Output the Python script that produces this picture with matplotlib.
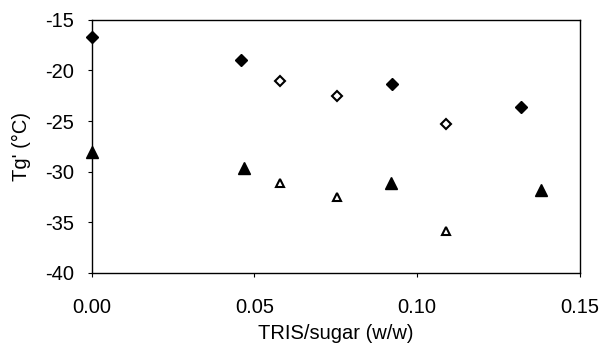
import matplotlib

matplotlib.use("Agg")
import matplotlib.pyplot as plt

plt.rcParams["font.family"] = ["Liberation Sans", "DejaVu Sans"]
plt.rcParams["axes.unicode_minus"] = False

# Tg' of frozen solutions vs TRIS/sugar ratio
diam_fill_x = [0.000, 0.046, 0.0923, 0.132]
diam_fill_y = [-16.7, -18.95, -21.3, -23.6]
diam_open_x = [0.0578, 0.0755, 0.109]
diam_open_y = [-21.0, -22.5, -25.3]
tri_fill_x = [0.000, 0.0469, 0.092, 0.138]
tri_fill_y = [-28.1, -29.6, -31.1, -31.8]
tri_open_x = [0.0578, 0.0755, 0.109]
tri_open_y = [-31.1, -32.5, -35.9]

xticks = [0.00, 0.05, 0.10, 0.15]
yticks = [-40, -35, -30, -25, -20, -15]

fig = plt.figure(figsize=(6.04, 3.49), dpi=100)
ax = fig.add_axes([0.152, 0.218, 0.808, 0.725])

ax.plot(diam_fill_x, diam_fill_y, "D", color="black", markersize=6.5, clip_on=False)
ax.plot(diam_open_x, diam_open_y, "D", markerfacecolor="white",
        markeredgecolor="black", markeredgewidth=1.5, markersize=5)
ax.plot(tri_fill_x, tri_fill_y, "^", color="black", markersize=8, clip_on=False)
ax.plot(tri_open_x, tri_open_y, "^", markerfacecolor="white",
        markeredgecolor="black", markeredgewidth=1.5, markersize=6)

ax.set_xlim(0, 0.15)
ax.set_ylim(-40, -15)
ax.set_xticks(xticks)
ax.set_xticklabels([f"{v:.2f}" for v in xticks])
ax.set_yticks(yticks)
ax.tick_params(labelsize=14.5, length=3, width=0.8, direction="out")
ax.tick_params(axis="x", pad=15)
ax.tick_params(axis="y", pad=10)
for sp in ax.spines.values():
    sp.set_linewidth(1.0)

ax.set_xlabel("TRIS/sugar (w/w)", fontsize=14.5, labelpad=5)
ax.set_ylabel("Tg' (°C)", fontsize=14.5, labelpad=10)

fig.savefig("out.png", dpi=100)
